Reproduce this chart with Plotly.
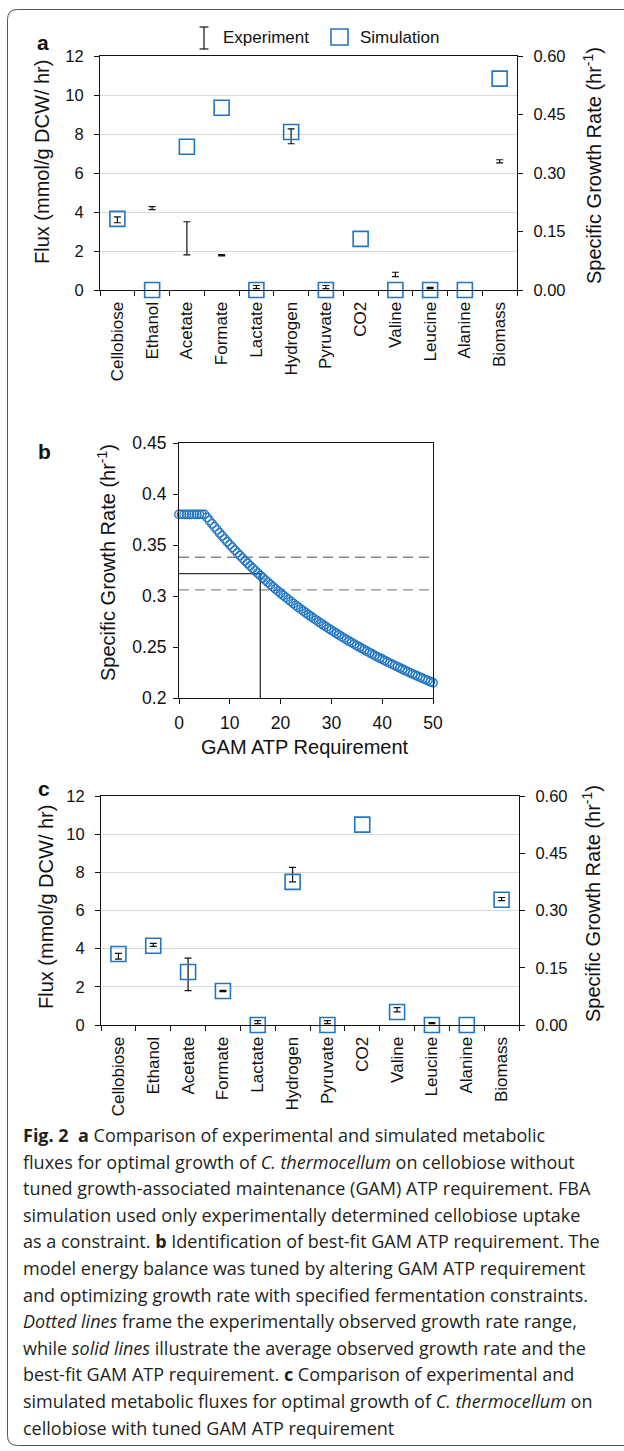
import plotly.graph_objects as go

W, H = 624, 1451


def fx(p):
    return p / W


def fy(p):
    return 1 - p / H


# ---------------- data ----------------
categories = ["Cellobiose", "Ethanol", "Acetate", "Formate", "Lactate", "Hydrogen",
              "Pyruvate", "CO2", "Valine", "Leucine", "Alanine", "Biomass"]
flux_categories = categories[:11]

# experiment (flux, mmol/g DCW/hr) - same in panels a and c
exp_cats = ["Cellobiose", "Ethanol", "Acetate", "Formate", "Lactate", "Hydrogen",
            "Pyruvate", "Valine", "Leucine"]
exp_flux = [3.6, 4.2, 2.65, 1.78, 0.15, 7.88, 0.15, 0.8, 0.1]
exp_err = [0.15, 0.08, 0.85, 0.03, 0.08, 0.38, 0.08, 0.11, 0.03]
exp_growth = [0.33]
exp_growth_err = [0.004]

# simulation, panel a (untuned GAM)
sim_a_flux = [3.65, 0, 7.35, 9.35, 0, 8.1, 0, 2.62, 0, 0, 0]
sim_a_growth = [0.542]

# simulation, panel c (tuned GAM)
sim_c_flux = [3.72, 4.15, 2.78, 1.78, 0, 7.5, 0, 10.5, 0.68, 0, 0]
sim_c_growth = [0.328]

# panel b: GAM ATP requirement scan
gam = [0, 0.5, 1, 1.5, 2, 2.5, 3, 3.5, 4, 4.5, 5, 5.5, 6, 6.5, 7, 7.5, 8, 8.5, 9, 9.5,
       10, 10.5, 11, 11.5, 12, 12.5, 13, 13.5, 14, 14.5, 15, 15.5, 16, 16.5, 17, 17.5,
       18, 18.5, 19, 19.5, 20, 20.5, 21, 21.5, 22, 22.5, 23, 23.5, 24, 24.5, 25, 25.5,
       26, 26.5, 27, 27.5, 28, 28.5, 29, 29.5, 30, 30.5, 31, 31.5, 32, 32.5, 33, 33.5,
       34, 34.5, 35, 35.5, 36, 36.5, 37, 37.5, 38, 38.5, 39, 39.5, 40, 40.5, 41, 41.5,
       42, 42.5, 43, 43.5, 44, 44.5, 45, 45.5, 46, 46.5, 47, 47.5, 48, 48.5, 49, 49.5, 50]
growth = [0.380, 0.380, 0.380, 0.380, 0.380, 0.380, 0.380, 0.380, 0.380, 0.380,
          0.380, 0.3771, 0.3739, 0.3708, 0.3678, 0.3648, 0.3618, 0.3589, 0.3560, 0.3532,
          0.3504, 0.3477, 0.3450, 0.3423, 0.3397, 0.3371, 0.3346, 0.3321, 0.3296, 0.3272,
          0.3248, 0.3225, 0.3201, 0.3179, 0.3156, 0.3134, 0.3112, 0.3090, 0.3069, 0.3048,
          0.3027, 0.3007, 0.2987, 0.2967, 0.2947, 0.2928, 0.2908, 0.2890, 0.2871, 0.2853,
          0.2834, 0.2816, 0.2799, 0.2781, 0.2764, 0.2747, 0.2730, 0.2713, 0.2697, 0.2681,
          0.2665, 0.2649, 0.2633, 0.2618, 0.2602, 0.2587, 0.2572, 0.2557, 0.2543, 0.2528,
          0.2514, 0.2500, 0.2486, 0.2472, 0.2459, 0.2445, 0.2432, 0.2418, 0.2405, 0.2392,
          0.2380, 0.2367, 0.2354, 0.2342, 0.2330, 0.2318, 0.2306, 0.2294, 0.2282, 0.2270,
          0.2259, 0.2247, 0.2236, 0.2225, 0.2214, 0.2203, 0.2192, 0.2181, 0.2171, 0.2160,
          0.2150]
growth_range = [0.306, 0.338]
avg_growth = 0.322
best_gam = 16
gam_range = [0, 50]

BLUE = "#2176c4"
BLACK = "#111111"
FONT = "Liberation Sans, Arial, sans-serif"
TICK = 16.5
XTICK = 17
BTICK = 17.5
TITLE = 20

fig = go.Figure()


def add_flux_panel(xa, ya, ya2, sim_flux, sim_growth):
    fig.add_trace(go.Scatter(
        x=exp_cats, y=exp_flux, mode="markers", xaxis=xa, yaxis=ya,
        marker=dict(size=2, color="rgba(0,0,0,0)"), showlegend=False, cliponaxis=False,
        hoverinfo="skip",
        error_y=dict(type="data", array=exp_err, color=BLACK, thickness=1.2, width=3.5)))
    fig.add_trace(go.Scatter(
        x=["Biomass"], y=exp_growth, mode="markers", xaxis=xa, yaxis=ya2,
        marker=dict(size=2, color="rgba(0,0,0,0)"), showlegend=False, cliponaxis=False,
        hoverinfo="skip",
        error_y=dict(type="data", array=exp_growth_err, color=BLACK, thickness=1.2, width=3.5)))
    fig.add_trace(go.Scatter(
        x=flux_categories, y=sim_flux, mode="markers", xaxis=xa, yaxis=ya,
        marker=dict(symbol="square-open", size=15, color=BLUE, line=dict(width=1.6, color=BLUE)),
        showlegend=False, cliponaxis=False))
    fig.add_trace(go.Scatter(
        x=["Biomass"], y=sim_growth, mode="markers", xaxis=xa, yaxis=ya2,
        marker=dict(symbol="square-open", size=15, color=BLUE, line=dict(width=1.6, color=BLUE)),
        showlegend=False, cliponaxis=False))


add_flux_panel("x", "y", "y2", sim_a_flux, sim_a_growth)
add_flux_panel("x3", "y4", "y5", sim_c_flux, sim_c_growth)

# panel b
for g in growth_range:
    fig.add_trace(go.Scatter(x=gam_range, y=[g, g], mode="lines", xaxis="x2", yaxis="y3",
                             line=dict(color="#8a8a8a", width=1.3, dash="10px,6px"),
                             showlegend=False))
fig.add_trace(go.Scatter(x=[gam_range[0], best_gam, best_gam], y=[avg_growth, avg_growth, 0.2],
                         mode="lines", xaxis="x2", yaxis="y3",
                         line=dict(color="#333333", width=1.3), showlegend=False))
fig.add_trace(go.Scatter(x=gam, y=growth, mode="markers", xaxis="x2", yaxis="y3",
                         marker=dict(symbol="circle-open", size=8.5, color=BLUE,
                                     line=dict(width=1.3, color=BLUE)),
                         showlegend=False, cliponaxis=False))

cat_axis = dict(type="category", categoryorder="array", categoryarray=categories,
                range=[-0.5, 11.5], tickson="boundaries", ticks="outside", ticklen=5,
                tickcolor=BLACK, tickangle=-90, showline=True, linecolor=BLACK, linewidth=1.2,
                mirror=True, showgrid=False, ticklabelstandoff=4, automargin=False,
                tickfont=dict(size=XTICK, color=BLACK))
left_axis = dict(range=[0, 12], dtick=2, ticks="outside", ticklen=5, tickcolor=BLACK,
                 showline=True, linecolor=BLACK, linewidth=1.2, showgrid=True,
                 gridcolor="#d9d9d9", gridwidth=1, zeroline=False, automargin=False,
                 ticklabelstandoff=7, tickfont=dict(size=TICK, color=BLACK))
right_axis = dict(range=[0, 0.6], dtick=0.15, tickformat=".2f", side="right",
                  ticks="outside", ticklen=5, tickcolor=BLACK, showline=True,
                  linecolor=BLACK, linewidth=1.2, showgrid=False, zeroline=False,
                  automargin=False, ticklabelstandoff=7,
                  tickfont=dict(size=TICK, color=BLACK))

fig.update_layout(
    width=W, height=H, margin=dict(l=0, r=0, t=0, b=0, pad=0, autoexpand=False),
    paper_bgcolor="white", plot_bgcolor="white",
    font=dict(family=FONT, color=BLACK),
    xaxis=dict(cat_axis, domain=[fx(100), fx(517)], anchor="y"),
    yaxis=dict(left_axis, domain=[fy(290), fy(56)], anchor="x"),
    yaxis2=dict(right_axis, overlaying="y", anchor="x"),
    xaxis2=dict(domain=[fx(179), fx(433)], anchor="y3", range=[0, 50], dtick=10,
                ticks="outside", ticklen=5, tickcolor=BLACK, showline=True,
                linecolor=BLACK, linewidth=1.2, mirror=True, showgrid=False, zeroline=False,
                automargin=False, ticklabelstandoff=4,
                tickfont=dict(size=BTICK, color=BLACK)),
    yaxis3=dict(domain=[fy(698), fy(443)], anchor="x2", range=[0.2, 0.45], dtick=0.05,
                ticks="outside", ticklen=5, tickcolor=BLACK, showline=True,
                linecolor=BLACK, linewidth=1.2, mirror=True, showgrid=False, zeroline=False,
                automargin=False, ticklabelstandoff=3,
                tickfont=dict(size=BTICK, color=BLACK)),
    xaxis3=dict(cat_axis, domain=[fx(101), fx(519)], anchor="y4"),
    yaxis4=dict(left_axis, domain=[fy(1025), fy(796)], anchor="x3"),
    yaxis5=dict(right_axis, overlaying="y4", anchor="x3"),
)

ann = []


def text(x, y, s, size=16, xanchor="center", yanchor="middle", angle=0,
         family=FONT, color=BLACK):
    ann.append(dict(x=fx(x), y=fy(y), xref="paper", yref="paper", text=s, showarrow=False,
                    xanchor=xanchor, yanchor=yanchor, textangle=angle,
                    font=dict(size=size, family=family, color=color)))


# panel labels
text(43, 43, "<b>a</b>", size=21)
text(44, 452, "<b>b</b>", size=21)
text(44, 789, "<b>c</b>", size=21)

# axis titles
text(42, 162, "Flux (mmol/g DCW/ hr)", size=TITLE, angle=-90)
text(592, 166, "Specific Growth Rate (hr<sup>-1</sup>)", size=TITLE, angle=-90)
text(106, 563, "Specific Growth Rate (hr<sup>-1</sup>)", size=TITLE, angle=-90)
text(305, 747, "GAM ATP Requirement", size=TITLE)
text(46, 907, "Flux (mmol/g DCW/ hr)", size=TITLE, angle=-90)
text(592, 904, "Specific Growth Rate (hr<sup>-1</sup>)", size=TITLE, angle=-90)

# legend texts
text(221, 37, "Experiment", size=17, xanchor="left")
text(358, 37, "Simulation", size=17, xanchor="left")

# caption
CAP = "Open Sans, Noto Sans, sans-serif"
CAPC = "#231f20"
caption = [
    "<b>Fig. 2</b>  <b>a</b> Comparison of experimental and simulated metabolic",
    "fluxes for optimal growth of <i>C. thermocellum</i> on cellobiose without",
    "tuned growth-associated maintenance (GAM) ATP requirement. FBA",
    "simulation used only experimentally determined cellobiose uptake",
    "as a constraint. <b>b</b> Identification of best-fit GAM ATP requirement. The",
    "model energy balance was tuned by altering GAM ATP requirement",
    "and optimizing growth rate with specified fermentation constraints.",
    "<i>Dotted lines</i> frame the experimentally observed growth rate range,",
    "while <i>solid lines</i> illustrate the average observed growth rate and the",
    "best-fit GAM ATP requirement. <b>c</b> Comparison of experimental and",
    "simulated metabolic fluxes for optimal growth of <i>C. thermocellum</i> on",
    "cellobiose with tuned GAM ATP requirement",
]
for i, line in enumerate(caption):
    base = 1141 + i * 26.6
    text(21, base - 6, line, size=18, xanchor="left", family=CAP, color=CAPC)

shapes = []
# legend symbols
shapes.append(dict(type="line", xref="paper", yref="paper", x0=fx(204), x1=fx(204),
                   y0=fy(27), y1=fy(49), line=dict(color=BLACK, width=1.2)))
for yy in (27, 49):
    shapes.append(dict(type="line", xref="paper", yref="paper", x0=fx(199.5), x1=fx(208.5),
                       y0=fy(yy), y1=fy(yy), line=dict(color=BLACK, width=1.2)))
shapes.append(dict(type="rect", xref="paper", yref="paper", x0=fx(331), x1=fx(348),
                   y0=fy(29), y1=fy(45), line=dict(color=BLUE, width=1.6)))

# outer rounded frame
r = 10
L, T, R, B = 7.5, 9.5, 660, 1445.5
path = (f"M {fx(R)},{fy(T)} L {fx(L + r)},{fy(T)} Q {fx(L)},{fy(T)} {fx(L)},{fy(T + r)} "
        f"L {fx(L)},{fy(B - r)} Q {fx(L)},{fy(B)} {fx(L + r)},{fy(B)} L {fx(R)},{fy(B)}")
shapes.append(dict(type="path", xref="paper", yref="paper", path=path,
                   line=dict(color="#555555", width=1)))

fig.update_layout(annotations=ann, shapes=shapes)
fig.write_html("out.html", config={"displayModeBar": False},
               post_script="document.body.style.margin='0';document.body.style.padding='0';")
